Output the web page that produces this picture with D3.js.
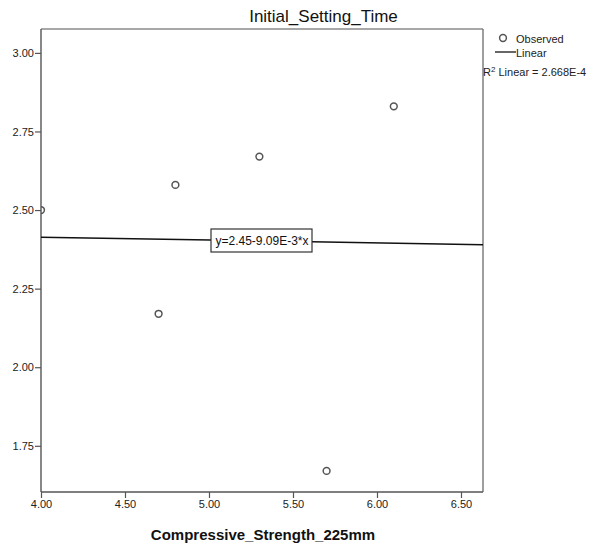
<!DOCTYPE html>
<html><head><meta charset="utf-8">
<script src="https://cdn.jsdelivr.net/npm/d3@7"></script>
<style>
body{margin:0;background:#fff;}
text{font-family:"Liberation Sans",Arial,sans-serif;}
</style></head>
<body><svg id="c" width="590" height="546"></svg>
<script>
const strength = [4.0, 4.7, 4.8, 5.3, 5.7, 6.1];
const settingTime = [2.50, 2.17, 2.58, 2.67, 1.67, 2.83];
const xTicks = [4.0, 4.5, 5.0, 5.5, 6.0, 6.5];
const yTicks = [1.75, 2.00, 2.25, 2.50, 2.75, 3.00];
const fitIntercept = 2.45;
const fitSlope = -9.09e-3;
const title = "Initial_Setting_Time";
const xLabel = "Compressive_Strength_225mm";
const equationLabel = "y=2.45-9.09E-3*x";
const rSquaredLabel = " Linear = 2.668E-4";

const svg = d3.select("#c");
const L = 41, R = 483, T = 29, B = 492;
const x = d3.scaleLinear().domain([4.0, 6.631]).range([L, R]);
const y = d3.scaleLinear().domain([1.603, 3.076]).range([B, T]);

svg.append("defs").append("clipPath").attr("id","clip")
  .append("rect").attr("x",L).attr("y",T).attr("width",R-L).attr("height",B-T);

// frame
svg.append("line").attr("x1",L).attr("x2",R).attr("y1",T).attr("y2",T).attr("stroke","#8a8a8a").attr("stroke-width",1.3);
svg.append("line").attr("x1",R).attr("x2",R).attr("y1",T).attr("y2",B).attr("stroke","#6a6a6a").attr("stroke-width",1.3);

// axes
const xa = svg.append("g").attr("transform",`translate(0,${B})`)
  .call(d3.axisBottom(x).tickValues(xTicks).tickFormat(d3.format(".2f")).tickSize(6).tickPadding(2));
const ya = svg.append("g").attr("transform",`translate(${L},0)`)
  .call(d3.axisLeft(y).tickValues(yTicks).tickFormat(d3.format(".2f")).tickSize(6).tickPadding(1));
[xa, ya].forEach(g=>{
  g.select(".domain").attr("stroke","#555").attr("stroke-width",1.4);
  g.selectAll(".tick line").attr("stroke","#555").attr("stroke-width",1.2);
  g.selectAll(".tick text").attr("fill","#222").style("font-size","11px").style("font-family","'Liberation Sans',Arial,sans-serif");
});
xa.select(".domain").attr("d",`M${L},0H${R}`);
ya.select(".domain").attr("d",`M0,${B}V${T}`);

// fit line
const xd = x.domain();
svg.append("line").attr("clip-path","url(#clip)")
  .attr("x1",x(xd[0])).attr("x2",x(xd[1]))
  .attr("y1",y(fitIntercept+fitSlope*xd[0])).attr("y2",y(fitIntercept+fitSlope*xd[1]))
  .attr("stroke","#111").attr("stroke-width",1.5);

// equation box
const eqG = svg.append("g");
const eqT = eqG.append("text").attr("x",262).attr("y",245).attr("text-anchor","middle")
  .style("font-size","12px").attr("fill","#111").text(equationLabel);
eqG.insert("rect","text").attr("x",211).attr("y",229).attr("width",101).attr("height",23)
  .attr("fill","#fff").attr("stroke","#333").attr("stroke-width",1.2);

// points
svg.append("g").attr("clip-path","url(#clip)").selectAll("circle")
  .data(strength.map((s,i)=>[s, settingTime[i]])).join("circle")
  .attr("cx",d=>x(d[0])).attr("cy",d=>y(d[1])).attr("r",3.4)
  .attr("fill","none").attr("stroke","#555").attr("stroke-width",1.5);

// titles
svg.append("text").attr("x",323.5).attr("y",22).attr("text-anchor","middle")
  .style("font-size","17px").attr("fill","#111").text(title);
svg.append("text").attr("x",263).attr("y",540).attr("text-anchor","middle")
  .style("font-size","15px").style("font-weight","bold").attr("fill","#111").text(xLabel);

// legend
svg.append("circle").attr("cx",503).attr("cy",38).attr("r",3.4).attr("fill","none").attr("stroke","#555").attr("stroke-width",1.5);
svg.append("text").attr("x",516).attr("y",43).style("font-size","11px").attr("fill","#222").text("Observed");
svg.append("line").attr("x1",495).attr("x2",516).attr("y1",52).attr("y2",52).attr("stroke","#333").attr("stroke-width",1.5);
svg.append("text").attr("x",516).attr("y",57).style("font-size","11px").attr("fill","#222").text("Linear");
const rt = svg.append("text").attr("x",483).attr("y",76).style("font-size","11px").attr("fill","#222");
rt.append("tspan").text("R");
rt.append("tspan").attr("dy",-4).style("font-size","8px").text("2");
rt.append("tspan").attr("dy",4).text(rSquaredLabel);
</script></body></html>
